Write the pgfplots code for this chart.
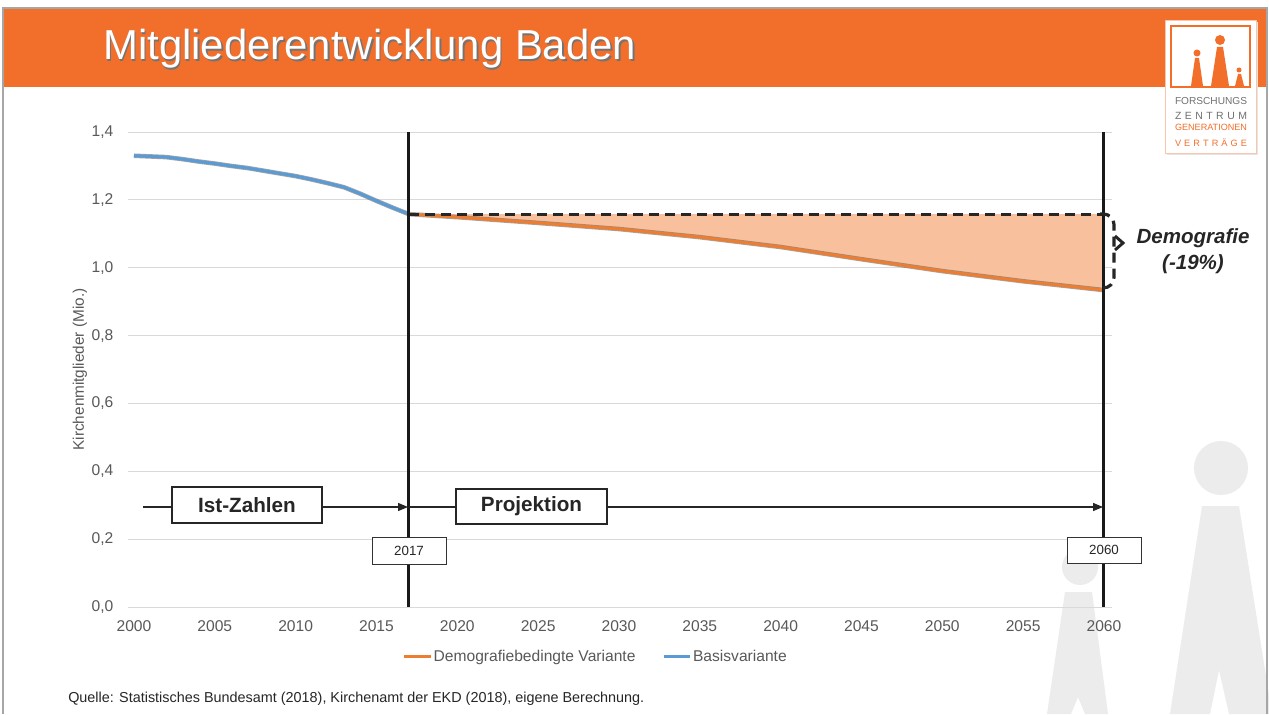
\documentclass[border=0pt]{standalone}
\usepackage{fontspec}
\setmainfont{Liberation Sans}
\usepackage{pgfplots}
\usepackage{pgfplotstable}
\pgfplotsset{compat=1.18}
\usetikzlibrary{arrows.meta}

\definecolor{barorange}{HTML}{F26F2B}
\definecolor{lineorange}{HTML}{ED7D31}
\definecolor{fillorange}{HTML}{F8C09C}
\definecolor{lineblue}{HTML}{5B9BD5}
\definecolor{txtgray}{HTML}{595959}
\definecolor{gridgray}{HTML}{D9D9D9}
\definecolor{wmgray}{HTML}{ECECEC}
\definecolor{logogray}{HTML}{707070}

% Basisvariante (Ist-Zahlen)
\pgfplotstableread{
year value
2000 1.330
2001 1.328
2002 1.326
2003 1.320
2004 1.313
2005 1.307
2006 1.300
2007 1.294
2008 1.286
2009 1.278
2010 1.270
2011 1.260
2012 1.249
2013 1.237
2014 1.218
2015 1.197
2016 1.177
2017 1.158
}\basis

% Demografiebedingte Variante (Projektion)
\pgfplotstableread{
year value
2017 1.158
2020 1.149
2025 1.132
2030 1.114
2035 1.090
2040 1.061
2045 1.025
2050 0.990
2055 0.960
2060 0.934
}\demo

\begin{document}
\begin{tikzpicture}[x=0.75pt,y=0.75pt]
% page, 1 unit = 1 px of the reference
\fill[white] (0,0) rectangle (1269,714);
\useasboundingbox (0,0) rectangle (1269,714);

% watermark figures
\fill[wmgray] (1221,246) circle (27);
\fill[wmgray] (1202,208) -- (1239,208) -- (1272,0) -- (1229,0) -- (1219,44) -- (1210,0) -- (1170,0) -- cycle;
\fill[wmgray] (1080,147) circle (18);
\fill[wmgray] (1065,122) -- (1092,122) -- (1108,0) -- (1085,0) -- (1078,17) -- (1071,0) -- (1047,0) -- cycle;

% title bar
\fill[barorange] (3,627) rectangle (1267,706);
\node[anchor=base west, inner sep=0, text=black!55, font=\fontsize{31.4}{36}\selectfont] at (104.5,652.5) {Mitgliederentwicklung Baden};
\node[anchor=base west, inner sep=0, text=white, font=\fontsize{31.4}{36}\selectfont] at (103,654) {Mitgliederentwicklung Baden};

% logo
\fill[black!10] (1167,559) rectangle (1258,692);
\filldraw[fill=white, draw=barorange!40] (1165,561) rectangle (1256,694);
\draw[barorange, line width=0.8pt] (1171,627) rectangle (1250,688);
\fill[barorange] (1220,674) circle (5);
\fill[barorange] (1217,667) -- (1223,667) -- (1229,628) -- (1211,628) -- cycle;
\fill[barorange] (1197,661) circle (3.5);
\fill[barorange] (1195,656) -- (1199,656) -- (1203,628) -- (1191,628) -- cycle;
\fill[barorange] (1239,644) circle (2.5);
\fill[barorange] (1238,640) -- (1241,640) -- (1244,628) -- (1235,628) -- cycle;
\node[text=logogray, inner sep=0] at (1211,613) {\resizebox{54pt}{!}{FORSCHUNGS}};
\node[text=logogray, inner sep=0] at (1211,598) {\resizebox{54pt}{!}{Z\,\,E\,\,N\,\,T\,\,R\,\,U\,\,M}};
\node[text=barorange, inner sep=0] at (1211,587) {\resizebox{54pt}{!}{GENERATIONEN}};
\node[text=barorange, inner sep=0] at (1211,571) {\resizebox{54pt}{!}{V\,\,E\,\,R\,\,T\,\,R\,\,Ä\,\,G\,\,E}};

\begin{axis}[
  at={(96pt,80.25pt)}, anchor=south west, scale only axis,
  width=738pt, height=356.25pt,
  xmin=1999.63, xmax=2060.5, ymin=0, ymax=1.4,
  xtick={2000,2005,...,2060},
  ytick={0,0.2,0.4,0.6,0.8,1.0,1.2,1.4},
  ymajorgrids, grid style={gridgray, line width=0.6pt},
  axis line style={draw=none}, tick style={draw=none},
  ticklabel style={font=\fontsize{11.7}{14}\selectfont, text=txtgray},
  /pgf/number format/assume math mode=true,
  xticklabel style={/pgf/number format/1000 sep={}, yshift=-6.5pt},
  yticklabel style={/pgf/number format/.cd, use comma, fixed, fixed zerofill, precision=1, /tikz/.cd, xshift=-7.5pt},
  ylabel={Kirchenmitglieder (Mio.)},
  ylabel style={at={(axis description cs:-0.049,0.5)}, anchor=center, font=\fontsize{11.5}{14}\selectfont, text=txtgray},
  legend style={at={(axis description cs:0.475,-0.105)}, anchor=center, draw=none, fill=none,
    font=\fontsize{11.7}{14}\selectfont, text=txtgray, inner sep=0pt,
    nodes={inner sep=1pt},
    /tikz/every even column/.append style={column sep=19pt}},
  legend columns=-1,
  legend image code/.code={\draw[#1, line width=2.2pt] (0pt,0pt) -- (20pt,0pt);},
  clip=false,
]
% gap between constant level of 2017 and the projection
\addplot[fill=fillorange, draw=none, forget plot] table[x=year, y=value] {\demo} -- (axis cs:2060,1.158) -- cycle;
\addplot[black!60, opacity=0.6, line width=3.4pt, forget plot] table[x=year, y=value] {\demo};
\addplot[black!60, opacity=0.6, line width=3.4pt, forget plot] table[x=year, y=value] {\basis};
\addplot[lineorange, line width=2.3pt] table[x=year, y=value] {\demo};
\addlegendentry{Demografiebedingte Variante}
\addplot[lineblue, line width=2.3pt] table[x=year, y=value] {\basis};
\addlegendentry{Basisvariante}

\draw[black!85, line width=2.4pt, dash pattern=on 7.5pt off 4.5pt] (axis cs:2017,1.158) -- (axis cs:2060,1.158);
\draw[black!90, line width=2.2pt] (axis cs:2017,0) -- (axis cs:2017,1.4);
\draw[black!90, line width=2.2pt] (axis cs:2060,0) -- (axis cs:2060,1.4);
\end{axis}

% bracket "Demografie"
\draw[black!85, line width=2.4pt, dash pattern=on 7.5pt off 4.5pt, rounded corners=8pt] (1100,500) -- (1114,500) -- (1114,426) -- (1104,426);
\draw[black!85, line width=2.2pt] (1115,478) -- (1123,471) -- (1115,464);
\node[font=\bfseries\itshape\fontsize{15.4}{18}\selectfont, text=black!85] at (1193,476) {Demografie};
\node[font=\bfseries\itshape\fontsize{15.4}{18}\selectfont, text=black!85] at (1193,450) {(-19\%)};

% Ist-Zahlen / Projektion
\draw[black!85, line width=0.9pt] (143,207) -- (172,207);
\draw[black!85, line width=0.9pt, -{Triangle[length=7.5pt,width=6pt]}] (322,207) -- (408,207);
\filldraw[fill=white, draw=black!85, line width=0.9pt] (172,191) rectangle (322,227);
\node[font=\bfseries\fontsize{15.5}{18}\selectfont, text=black!85] at (247,209) {Ist-Zahlen};
\draw[black!85, line width=0.9pt] (409,207) -- (456,207);
\draw[black!85, line width=0.9pt, -{Triangle[length=7.5pt,width=6pt]}] (607,207) -- (1103,207);
\filldraw[fill=white, draw=black!85, line width=0.9pt] (456,190) rectangle (607,225);
\node[font=\bfseries\fontsize{15.5}{18}\selectfont, text=black!85] at (531.5,207.5) {Projektion};

% year boxes
\filldraw[fill=white, draw=black!80, line width=0.7pt] (372,150) rectangle (446,177);
\node[font=\fontsize{10}{12}\selectfont, text=black!85] at (409,163.5) {2017};
\filldraw[fill=white, draw=black!80, line width=0.7pt] (1067,151) rectangle (1141,177);
\node[font=\fontsize{10}{12}\selectfont, text=black!85] at (1104,164) {2060};

% source
\node[anchor=base west, inner sep=0, font=\fontsize{10.8}{13}\selectfont, text=black!85] at (68,12) {Quelle: Statistisches Bundesamt (2018), Kirchenamt der EKD (2018), eigene Berechnung.};

% slide frame
\draw[gray!70, line width=0.8pt] (3,0) -- (3,706) -- (1267,706) -- (1267,0);
\end{tikzpicture}
\end{document}
